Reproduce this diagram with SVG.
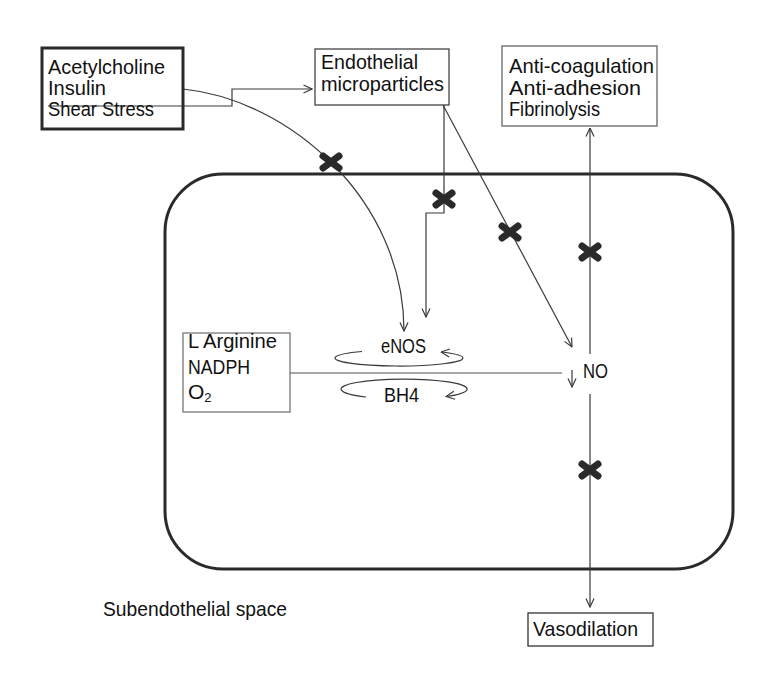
<svg xmlns="http://www.w3.org/2000/svg" width="771" height="694" viewBox="0 0 771 694">
<style>
text{font-family:"Liberation Sans",Arial,sans-serif;fill:#111;font-size:21px}
.box{fill:#fff;stroke:#444;stroke-width:1.3}
.ln{fill:none;stroke:#3a3a3a;stroke-width:1.2}
.lg{fill:none;stroke:#8a8a8a;stroke-width:1.3}
.x{stroke:#2a2a2a;stroke-width:7;stroke-linecap:round}
</style>
<defs>
<marker id="arr" viewBox="0 0 10 10" refX="9.5" refY="5" markerWidth="10" markerHeight="10" orient="auto" markerUnits="userSpaceOnUse">
<path d="M1,1 L9.5,5 L1,9" fill="none" stroke="#3a3a3a" stroke-width="1.2"/>
</marker>
<g id="cross"><path class="x" d="M-8,-6 L8,6 M-8,6 L8,-6"/></g>
</defs>
<rect width="771" height="694" fill="#fff"/>

<g id="cell"><rect x="165" y="174" width="568" height="395" rx="58" ry="58" fill="none" stroke="#2a2a2a" stroke-width="3"/></g>

<g id="connectors">
<path class="ln" d="M48,106 H232 V89 H312" marker-end="url(#arr)"/>
<path class="ln" d="M183,89 C290,100 404,200 404,331" marker-end="url(#arr)"/>
<path class="ln" d="M444,105 V213 H426 V317" marker-end="url(#arr)"/>
<path class="ln" d="M443,105 L572,347" marker-end="url(#arr)"/>
<path class="ln" d="M572,370 V387" marker-end="url(#arr)"/>
<path class="ln" d="M590,354 V128" marker-end="url(#arr)"/>
<path class="ln" d="M590,394 V607" marker-end="url(#arr)"/>
<path class="lg" d="M290,373 H562"/>
<path class="ln" d="M362,351.5 A64 8 0 1 0 441,352" marker-end="url(#arr)"/>
<path class="ln" d="M366,397 A63 10 0 1 1 446,396.5" marker-end="url(#arr)"/>
</g>

<g id="inhibitions">
<use href="#cross" x="331" y="162"/>
<use href="#cross" x="444" y="199"/>
<use href="#cross" x="510" y="232"/>
<use href="#cross" x="590" y="252"/>
<use href="#cross" x="590" y="470"/>
</g>

<g id="stimuli">
<rect x="42" y="48" width="141" height="81" fill="none" stroke="#2a2a2a" stroke-width="3"/>
<text x="48" y="74" textLength="117" lengthAdjust="spacingAndGlyphs">Acetylcholine</text>
<text x="48" y="95" textLength="58" lengthAdjust="spacingAndGlyphs">Insulin</text>
<text x="48" y="116" textLength="106" lengthAdjust="spacingAndGlyphs">Shear Stress</text>
</g>

<g id="microparticles">
<rect class="box" x="315" y="49" width="134" height="56"/>
<text x="321" y="69" textLength="97" lengthAdjust="spacingAndGlyphs">Endothelial</text>
<text x="321" y="91" textLength="123" lengthAdjust="spacingAndGlyphs">microparticles</text>
</g>

<g id="anticoag">
<rect class="box" x="502" y="46" width="155" height="80" style="stroke:#666"/>
<text x="509" y="73" textLength="145" lengthAdjust="spacingAndGlyphs">Anti-coagulation</text>
<text x="509" y="95" textLength="132" lengthAdjust="spacingAndGlyphs">Anti-adhesion</text>
<text x="509" y="116" textLength="91" lengthAdjust="spacingAndGlyphs">Fibrinolysis</text>
</g>

<g id="substrates">
<rect class="box" x="183" y="333" width="107" height="79" style="stroke:#777"/>
<text x="188" y="348" textLength="89" lengthAdjust="spacingAndGlyphs">L Arginine</text>
<text x="188" y="374" textLength="62" lengthAdjust="spacingAndGlyphs">NADPH</text>
<text x="188" y="399">O<tspan font-size="13" dy="3">2</tspan></text>
</g>

<g id="enos"><text x="381" y="353" font-size="22" textLength="45" lengthAdjust="spacingAndGlyphs">eNOS</text></g>
<g id="bh4"><text x="384" y="402" font-size="22" textLength="35" lengthAdjust="spacingAndGlyphs">BH4</text></g>
<g id="no"><text x="583" y="378" font-size="24" textLength="25" lengthAdjust="spacingAndGlyphs">NO</text></g>

<g id="vasodilation">
<rect class="box" x="528" y="613" width="125" height="33" style="stroke:#333"/>
<text x="533" y="636" font-size="23" textLength="105" lengthAdjust="spacingAndGlyphs">Vasodilation</text>
</g>

<g id="subendothelial"><text x="103" y="616" font-size="23" textLength="184" lengthAdjust="spacingAndGlyphs">Subendothelial space</text></g>
</svg>
